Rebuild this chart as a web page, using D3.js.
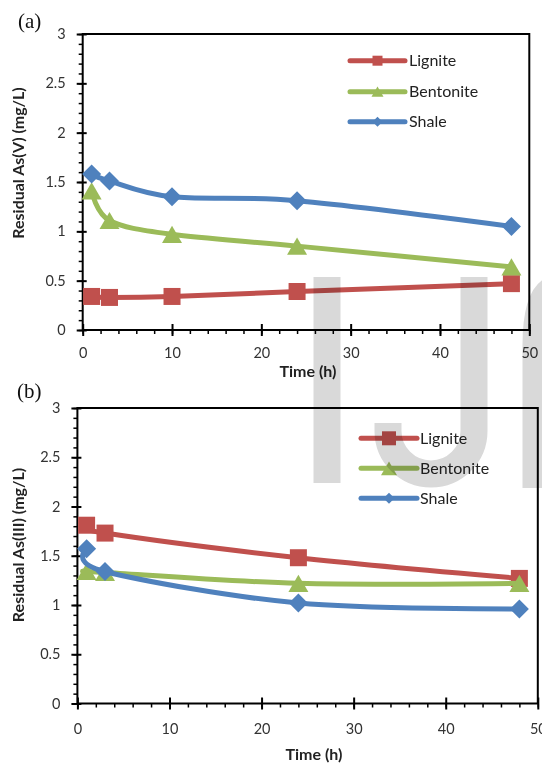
<!DOCTYPE html>
<html>
<head>
<meta charset="utf-8">
<script src="https://cdn.jsdelivr.net/npm/d3@7/dist/d3.min.js"></script>
<style>
  body { margin: 0; background: #fff; }
  .tick text { font-family: Lato, "Open Sans", sans-serif; font-size: 14.5px; fill: #333; }
  .title { font-family: Lato, "Open Sans", sans-serif; font-size: 16px; font-weight: bold; fill: #222; }
  .legend-text { font-family: Lato, "Open Sans", sans-serif; font-size: 16px; fill: #222; }
  .panel-label { font-family: "Liberation Serif", "DejaVu Serif", serif; font-size: 21px; fill: #111; }
</style>
</head>
<body>
<div id="viz"></div>
<script>
// values
const SERIES = ['Lignite', 'Bentonite', 'Shale'];
const COLORS = ['#C0504D', '#9BBB59', '#4F81BD'];

const times_a = [1, 3, 10, 24, 48];
const lignite_a = [0.34, 0.33, 0.34, 0.39, 0.47];
const bentonite_a = [1.41, 1.11, 0.97, 0.85, 0.64];
const shale_a = [1.58, 1.51, 1.35, 1.31, 1.05];

const times_b = [1, 3, 24, 48];
const lignite_b = [1.81, 1.73, 1.48, 1.27];
const bentonite_b = [1.34, 1.33, 1.22, 1.22];
const shale_b = [1.57, 1.34, 1.02, 0.96];

const x_ticks = [0, 10, 20, 30, 40, 50];
const y_ticks = [0, 0.5, 1, 1.5, 2, 2.5, 3];

const W = 542, H = 764;

const svg = d3.select('#viz').append('svg')
  .attr('width', W)
  .attr('height', H);

svg.append('rect').attr('width', W).attr('height', H).attr('fill', '#fff');

// marker shapes
const markerPath = {
  square: (s) => `M${-s / 2},${-s / 2}h${s}v${s}h${-s}Z`,
  triangle: (s) => `M0,${-s * 0.43}L${s / 2},${s * 0.43}L${-s / 2},${s * 0.43}Z`,
  diamond: (s) => `M0,${-s / 2}L${s / 2},0L0,${s / 2}L${-s / 2},0Z`
};
const SHAPES = ['square', 'triangle', 'diamond'];

const panels = [
  {
    label: '(a)', labelX: 18, labelY: 28,
    left: 82.7, right: 529.3, top: 34, bottom: 330,
    times: times_a, values: [lignite_a, bentonite_a, shale_a],
    yTitle: 'Residual As(V) (mg/L)', yTitleY: 163,
    xTitleX: 308, xTitleY: 377, xLabelY: 28,
    legX1: 350, legX2: 405, legText: 409, legY: [60.7, 91.7, 121.7],
    legSize: [10, 12, 10]
  },
  {
    label: '(b)', labelX: 17, labelY: 398,
    left: 77.4, right: 537.8, top: 408, bottom: 703.5,
    times: times_b, values: [lignite_b, bentonite_b, shale_b],
    yTitle: 'Residual As(III) (mg/L)', yTitleY: 545,
    xTitleX: 314, xTitleY: 760, xLabelY: 30.5,
    legX1: 361, legX2: 417, legText: 420, legY: [438.3, 468.3, 498.3],
    legSize: [14, 16, 11]
  }
];

const DATA_SIZE = [17, 20, 19];

panels.forEach((p) => {
  const g = svg.append('g');

  const xScale = d3.scaleLinear().domain([0, 50]).range([p.left, p.right]);
  const yScale = d3.scaleLinear().domain([0, 3]).range([p.bottom, p.top]);

  // minor ticks
  g.append('g')
    .attr('transform', 'translate(' + p.left + ',0)')
    .call(d3.axisLeft(yScale).tickValues(d3.range(0, 3.01, 0.1)).tickSize(4).tickFormat(''))
    .call((a) => a.select('.domain').remove())
    .selectAll('line').attr('stroke', '#000').attr('stroke-width', 1.5);

  g.append('g')
    .attr('transform', 'translate(0,' + p.bottom + ')')
    .call(d3.axisBottom(xScale).tickValues(d3.range(0, 50.1, 2)).tickSize(4).tickFormat(''))
    .call((a) => a.select('.domain').remove())
    .selectAll('line').attr('stroke', '#000').attr('stroke-width', 1.5);

  // major ticks
  const yAxis = g.append('g')
    .attr('transform', 'translate(' + p.left + ',0)')
    .call(d3.axisLeft(yScale).tickValues(y_ticks).tickFormat(d3.format('')).tickSize(6).tickPadding(11));
  yAxis.select('.domain').remove();
  yAxis.selectAll('.tick line').attr('x1', 4).attr('stroke', '#000').attr('stroke-width', 2);

  const xAxis = g.append('g')
    .attr('transform', 'translate(0,' + p.bottom + ')')
    .call(d3.axisBottom(xScale).tickValues(x_ticks).tickSize(6));
  xAxis.select('.domain').remove();
  xAxis.selectAll('.tick line').attr('y1', -6).attr('stroke', '#000').attr('stroke-width', 2);
  xAxis.selectAll('.tick text').attr('y', p.xLabelY).attr('dy', 0);

  // frame
  g.append('rect')
    .attr('x', p.left).attr('y', p.top)
    .attr('width', p.right - p.left).attr('height', p.bottom - p.top)
    .attr('fill', 'none').attr('stroke', '#000').attr('stroke-width', 2);

  // titles
  g.append('text').attr('class', 'title')
    .attr('transform', 'translate(24,' + p.yTitleY + ') rotate(-90)')
    .attr('text-anchor', 'middle')
    .text(p.yTitle);

  g.append('text').attr('class', 'title')
    .attr('x', p.xTitleX).attr('y', p.xTitleY)
    .attr('text-anchor', 'middle')
    .text('Time (h)');

  g.append('text').attr('class', 'panel-label')
    .attr('x', p.labelX).attr('y', p.labelY)
    .text(p.label);

  const generateLine = d3.line()
    .x((d) => xScale(d.t))
    .y((d) => yScale(d.v))
    .curve(d3.curveCatmullRom.alpha(0));

  SERIES.forEach((name, i) => {
    const pts = p.times.map((t, j) => ({ t: t, v: p.values[i][j] }));
    g.append('path')
      .datum(pts)
      .attr('fill', 'none')
      .attr('stroke', COLORS[i])
      .attr('stroke-width', 5)
      .attr('stroke-linecap', 'round')
      .attr('stroke-linejoin', 'round')
      .attr('d', generateLine);

    g.selectAll('.pt-' + i)
      .data(pts)
      .enter()
      .append('path')
      .attr('class', 'pt-' + i)
      .attr('transform', (d) => 'translate(' + xScale(d.t) + ',' + yScale(d.v) + ')')
      .attr('d', markerPath[SHAPES[i]](DATA_SIZE[i]))
      .attr('fill', COLORS[i]);

    // legend
    const ly = p.legY[i];
    g.append('line')
      .attr('x1', p.legX1).attr('x2', p.legX2)
      .attr('y1', ly).attr('y2', ly)
      .attr('stroke', COLORS[i]).attr('stroke-width', 5)
      .attr('stroke-linecap', 'round');
    g.append('path')
      .attr('transform', 'translate(' + ((p.legX1 + p.legX2) / 2) + ',' + ly + ')')
      .attr('d', markerPath[SHAPES[i]](p.legSize[i]))
      .attr('fill', COLORS[i]);
    g.append('text').attr('class', 'legend-text')
      .attr('x', p.legText).attr('y', ly)
      .attr('dy', '0.36em')
      .text(name);
  });
});

// grey watermark letters laid over the page
const wm = svg.append('g')
  .style('mix-blend-mode', 'multiply')
  .attr('fill', 'none')
  .attr('stroke', '#d9d9d9')
  .attr('stroke-width', 27);

wm.append('path').attr('d', 'M327,277V483');
wm.append('path').attr('d', 'M474,277V431A43,43 0 0 1 388,431V423');
wm.append('path').attr('d', 'M552,290Q536,298 536,345V488');
</script>
</body>
</html>
